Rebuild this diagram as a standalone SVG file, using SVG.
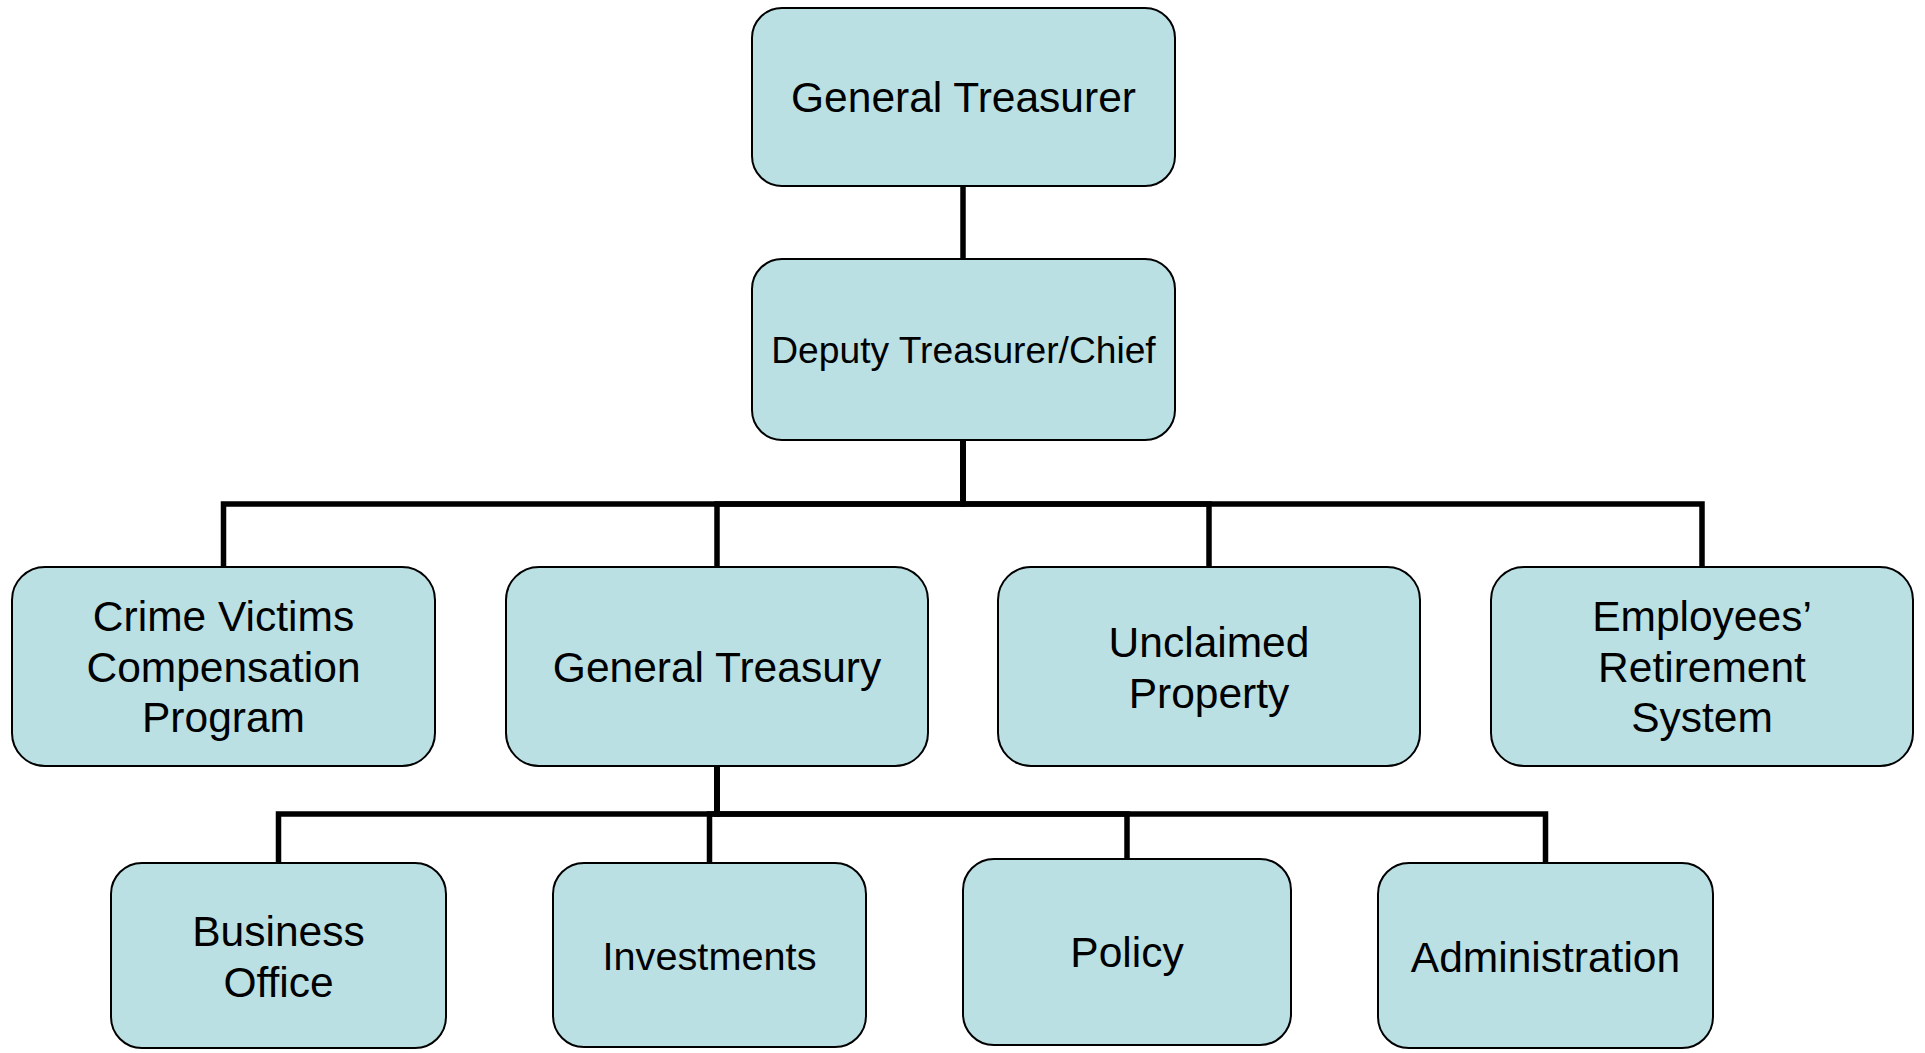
<svg xmlns="http://www.w3.org/2000/svg" width="1925" height="1053" viewBox="0 0 1925 1053">
<style>
.box{fill:#BAE0E3;stroke:#000;stroke-width:2}
.lbl{font-family:"Liberation Sans",Arial,sans-serif;font-size:42.5px;fill:#000;text-anchor:middle}
.conn{fill:none;stroke:#000;stroke-width:5.5;stroke-linejoin:miter;stroke-linecap:butt}
</style>
<rect width="1925" height="1053" fill="#fff"/>
<g id="connectors">
<path class="conn" d="M963 186 V259"/>
<path class="conn" d="M963 440 V504 H223.5 V567"/>
<path class="conn" d="M963 440 V504 H717 V567"/>
<path class="conn" d="M963 440 V504 H1209 V567"/>
<path class="conn" d="M963 440 V504 H1702 V567"/>
<path class="conn" d="M717 766 V814 H278.5 V863"/>
<path class="conn" d="M717 766 V814 H709.5 V863"/>
<path class="conn" d="M717 766 V814 H1127 V859"/>
<path class="conn" d="M717 766 V814 H1545.5 V863"/>
</g>
<g id="general-treasurer">
<rect class="box" x="752" y="8" width="423" height="178" rx="30"/>
<text class="lbl" x="963.5" y="112">General Treasurer</text>
</g>
<g id="deputy-treasurer">
<rect class="box" x="752" y="259" width="423" height="181" rx="30"/>
<text class="lbl" x="963.5" y="363" style="font-size:37.2px">Deputy Treasurer/Chief</text>
</g>
<g id="crime-victims">
<rect class="box" x="12" y="567" width="423" height="199" rx="33"/>
<text class="lbl" x="223.5" y="631">Crime Victims</text>
<text class="lbl" x="223.5" y="682">Compensation</text>
<text class="lbl" x="223.5" y="732">Program</text>
</g>
<g id="general-treasury">
<rect class="box" x="506" y="567" width="422" height="199" rx="33"/>
<text class="lbl" x="717" y="682">General Treasury</text>
</g>
<g id="unclaimed-property">
<rect class="box" x="998" y="567" width="422" height="199" rx="33"/>
<text class="lbl" x="1209" y="657">Unclaimed</text>
<text class="lbl" x="1209" y="708">Property</text>
</g>
<g id="employees-retirement">
<rect class="box" x="1491" y="567" width="422" height="199" rx="33"/>
<text class="lbl" x="1702" y="631">Employees’</text>
<text class="lbl" x="1702" y="682">Retirement</text>
<text class="lbl" x="1702" y="732">System</text>
</g>
<g id="business-office">
<rect class="box" x="111" y="863" width="335" height="185" rx="31"/>
<text class="lbl" x="278.5" y="946">Business</text>
<text class="lbl" x="278.5" y="997">Office</text>
</g>
<g id="investments">
<rect class="box" x="553" y="863" width="313" height="184" rx="31"/>
<text class="lbl" x="709.5" y="970" style="font-size:39.7px">Investments</text>
</g>
<g id="policy">
<rect class="box" x="963" y="859" width="328" height="186" rx="31"/>
<text class="lbl" x="1127" y="967">Policy</text>
</g>
<g id="administration">
<rect class="box" x="1378" y="863" width="335" height="185" rx="31"/>
<text class="lbl" x="1545.5" y="972">Administration</text>
</g>
</svg>
